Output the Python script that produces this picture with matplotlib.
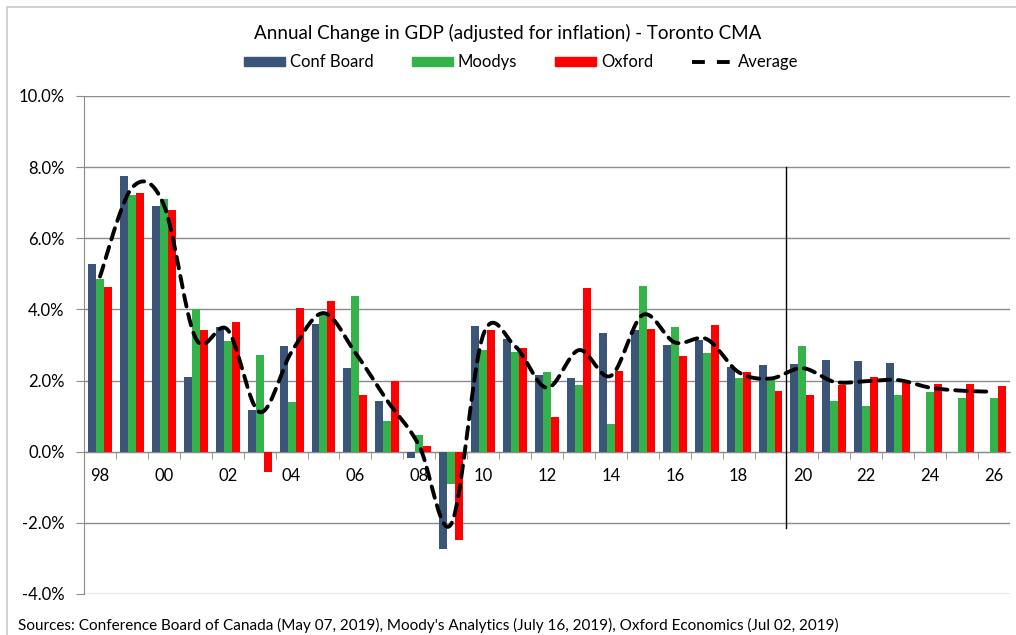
import numpy as np
import matplotlib
matplotlib.use("Agg")
import matplotlib.pyplot as plt
from matplotlib.patches import Rectangle
from matplotlib.lines import Line2D
from matplotlib.ticker import FuncFormatter, FixedLocator

plt.rcParams['font.family'] = ['Lato', 'DejaVu Sans']

years = list(range(1998, 2027))
conf_board = [5.28, 7.75, 6.91, 2.11, 3.51, 1.18, 2.98, 3.60, 2.36, 1.43,
              -0.17, -2.73, 3.54, 3.17, 2.16, 2.08, 3.34, 3.43, 3.01, 3.15,
              2.38, 2.44, 2.47, 2.58, 2.55, 2.50, np.nan, np.nan, np.nan]
moodys = [4.86, 7.22, 7.11, 4.01, 3.12, 2.72, 1.40, 3.85, 4.38, 0.87,
          0.48, -0.90, 2.87, 2.81, 2.25, 1.88, 0.79, 4.66, 3.51, 2.78,
          2.08, 2.02, 2.98, 1.43, 1.29, 1.60, 1.69, 1.52, 1.52]
oxford = [4.63, 7.28, 6.80, 3.43, 3.65, -0.56, 4.04, 4.24, 1.60, 1.99,
          0.17, -2.47, 3.43, 2.92, 0.98, 4.61, 2.27, 3.45, 2.70, 3.57,
          2.25, 1.71, 1.60, 1.88, 2.11, 1.94, 1.91, 1.91, 1.85]
tick_labels = ["98", "00", "02", "04", "06", "08", "10", "12", "14", "16",
               "18", "20", "22", "24", "26"]

series = [("Conf Board", conf_board, "#3B5579"),
          ("Moodys", moodys, "#34B34A"),
          ("Oxford", oxford, "#FF0000")]

avg = np.nanmean(np.array([conf_board, moodys, oxford], dtype=float), axis=0)


def smooth(x, y, n=20):
    # catmull-rom style smoothing like Excel's "smoothed line"
    x = np.asarray(x, float)
    y = np.asarray(y, float)
    px = np.concatenate([[x[0]], x, [x[-1]]])
    py = np.concatenate([[y[0]], y, [y[-1]]])
    xs, ys = [], []
    t = np.linspace(0, 1, n, endpoint=False)
    for i in range(1, len(px) - 2):
        p0 = np.array([px[i], py[i]])
        p3 = np.array([px[i + 1], py[i + 1]])
        c1 = p0 + (np.array([px[i + 1], py[i + 1]]) - np.array([px[i - 1], py[i - 1]])) / 6
        c2 = p3 - (np.array([px[i + 2], py[i + 2]]) - np.array([px[i], py[i]])) / 6
        b = ((1 - t) ** 3)[:, None] * p0 + (3 * (1 - t) ** 2 * t)[:, None] * c1 \
            + (3 * (1 - t) * t ** 2)[:, None] * c2 + (t ** 3)[:, None] * p3
        xs.extend(b[:, 0])
        ys.extend(b[:, 1])
    xs.append(x[-1])
    ys.append(y[-1])
    return np.array(xs), np.array(ys)


fig = plt.figure(figsize=(10.16, 6.35), dpi=100)
ax = fig.add_axes([84 / 1016, 1 - 594 / 635, (1010 - 84) / 1016, (594 - 96) / 635])

x = np.arange(len(years))
w = 0.25
for k, (name, vals, col) in enumerate(series):
    ax.bar(x + (k - 1) * w, vals, width=w, color=col, zorder=3, label=name)

sx, sy = smooth(x, avg)
ax.plot(sx, sy, color="black", lw=2.8, dashes=(3, 2), dash_capstyle="round",
        zorder=4, label="Average")

# forecast divider between 2019 and 2020
ax.plot([years.index(2020) - 0.5] * 2, [8.0, -2.15], color="black", lw=1, zorder=5)

ax.set_xlim(-0.5, len(years) - 0.5)
ax.set_ylim(-4, 10)
ax.set_yticks(np.arange(-4, 10.1, 2))
ax.yaxis.set_major_formatter(FuncFormatter(lambda v, p: f"{v:.1f}%"))
ax.grid(axis="y", color="#8C8C8C", lw=1, zorder=0)
ax.set_axisbelow(True)

for s in ["top", "right"]:
    ax.spines[s].set_visible(False)
ax.spines["left"].set_color("#8C8C8C")
ax.spines["bottom"].set_position(("data", 0))
ax.spines["bottom"].set_color("#8C8C8C")
ax.spines["bottom"].set_zorder(2)

ax.set_xticks(x[::2])
ax.set_xticklabels(tick_labels)
ax.xaxis.set_minor_locator(FixedLocator(np.arange(0.5, len(years) - 1, 1)))
ax.tick_params(axis="x", which="major", length=0, pad=12, labelsize=12)
ax.tick_params(axis="x", which="minor", length=5, color="#8C8C8C", direction="out")
ax.tick_params(axis="y", length=6, color="#8C8C8C", labelsize=12, pad=8)

fig.text(0.5, 1 - 33 / 635, "Annual Change in GDP (adjusted for inflation) - Toronto CMA",
         ha="center", va="center", fontsize=13.5)

handles = [Rectangle((0, 0), 1, 1, color=c) for _, _, c in series]
handles.append(Line2D([0], [0], color="black", lw=2.8, dashes=(3.3, 3.1)))
fig.legend(handles, [n for n, _, _ in series] + ["Average"], loc="center",
           bbox_to_anchor=(0.5 + 13 / 1016, 1 - 62 / 635), ncol=4, frameon=False, fontsize=12,
           handlelength=2.45, handleheight=0.45, handletextpad=0.3, columnspacing=2.3)

fig.text(18 / 1016, 1 - 625 / 635,
         "Sources: Conference Board of Canada (May 07, 2019), Moody's Analytics (July 16, 2019), "
         "Oxford Economics (Jul 02, 2019)", ha="left", va="center", fontsize=11)

fig.patches.append(Rectangle((7 / 1016, -0.1), 1.2, 1 - 7 / 635 + 0.1, transform=fig.transFigure,
                             fill=False, edgecolor="#C8C8C8", lw=1.2))

fig.savefig("out.png", dpi=100)
